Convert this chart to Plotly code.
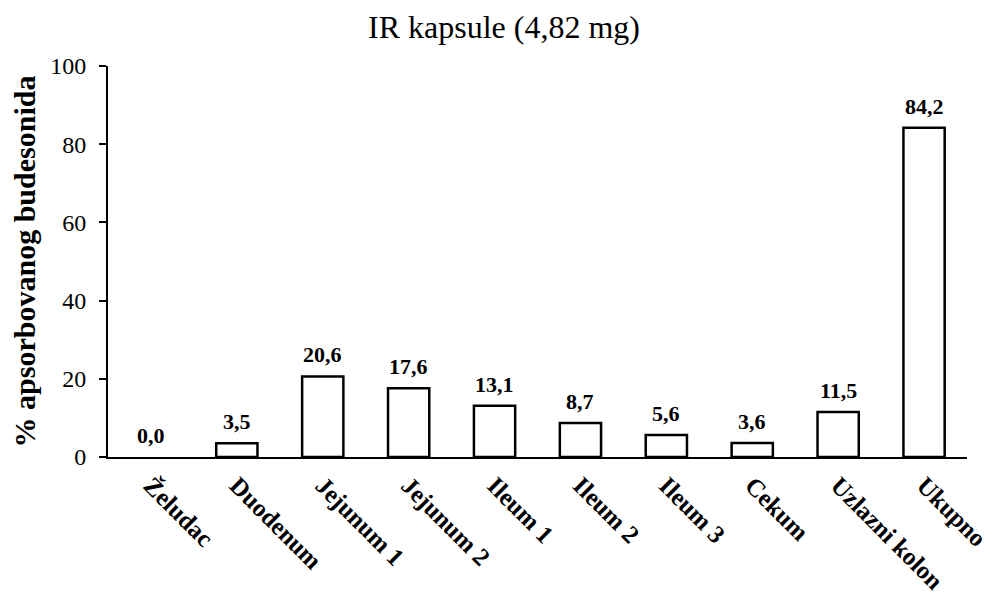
import plotly.graph_objects as go

categories = ["Želudac", "Duodenum", "Jejunum 1", "Jejunum 2", "Ileum 1",
              "Ileum 2", "Ileum 3", "Cekum", "Uzlazni kolon", "Ukupno"]
values = [0.0, 3.5, 20.6, 17.6, 13.1, 8.7, 5.6, 3.6, 11.5, 84.2]
y_ticks = [0, 20, 40, 60, 80, 100]

labels = [f"{v:.1f}".replace(".", ",") for v in values]
serif = "Liberation Serif, Times New Roman, serif"
# zero-height bars show no outline in the reference
outline_widths = [0 if v == 0 else 2.5 for v in values]

fig = go.Figure()
fig.add_trace(go.Bar(
    x=categories, y=values,
    marker=dict(color="white", line=dict(color="black", width=outline_widths)),
    width=0.48,
    cliponaxis=False,
))

annotations = [
    dict(x=c, y=v, text=f"<b>{t}</b>", showarrow=False, yanchor="bottom",
         yshift=7, font=dict(family=serif, size=22, color="black"))
    for c, v, t in zip(categories, values, labels)
]

fig.update_layout(
    width=986, height=590,
    paper_bgcolor="white", plot_bgcolor="white",
    margin=dict(l=100, r=27, t=58, b=141, autoexpand=False),
    showlegend=False,
    title=dict(text="IR kapsule (4,82 mg)", x=0.503, xanchor="center",
               y=1 - 19 / 590, yanchor="middle",
               font=dict(family=serif, size=32, color="black")),
    annotations=annotations,
    xaxis=dict(
        showline=True, linecolor="black", linewidth=2,
        ticks="", tickangle=45, automargin=False,
        tickfont=dict(family=serif, size=25, color="black"),
        tickvals=categories,
        ticktext=[f"<b>{c}</b>" for c in categories],
        ticklabelstandoff=2,
        showgrid=False,
    ),
    yaxis=dict(
        range=[0, 100], tickvals=y_ticks, automargin=False,
        showline=True, linecolor="black", linewidth=2,
        ticks="outside", ticklen=7, tickwidth=2, tickcolor="black",
        tickfont=dict(family=serif, size=24, color="black"),
        ticklabelstandoff=8,
        showgrid=False, zeroline=False,
        title=dict(text="<b>% apsorbovanog budesonida</b>", standoff=6,
                   font=dict(family=serif, size=30, color="black")),
    ),
)

fig.write_html("out.html")
